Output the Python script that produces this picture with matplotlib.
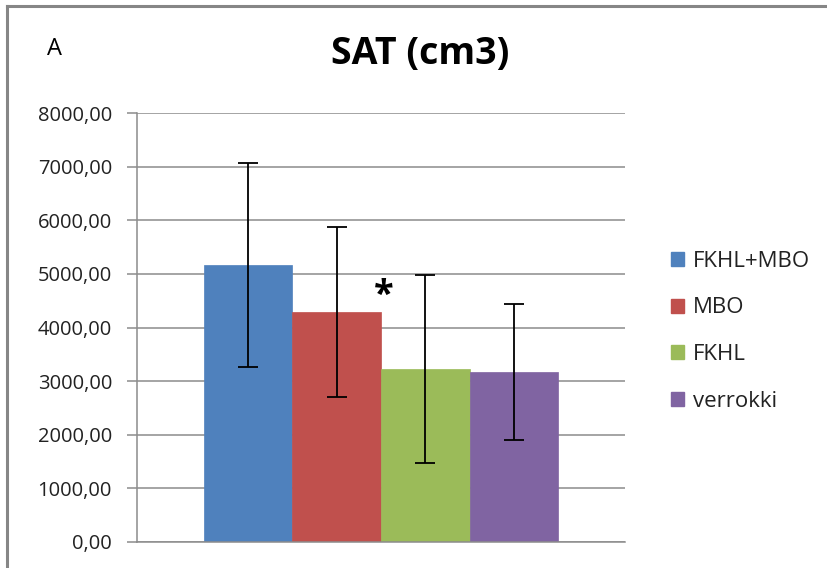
import matplotlib
matplotlib.use("Agg")
import matplotlib.pyplot as plt
from matplotlib.patches import Rectangle
from matplotlib.lines import Line2D
from matplotlib.ticker import FuncFormatter

plt.rcParams['font.family'] = ['Open Sans', 'DejaVu Sans']

categories = ["FKHL+MBO", "MBO", "FKHL", "verrokki"]
means = [5170, 4280, 3230, 3175]
errors = [1905, 1585, 1755, 1265]
colors = ["#4F81BD", "#C0504D", "#9BBB59", "#8064A2"]
yticks = [0, 1000, 2000, 3000, 4000, 5000, 6000, 7000, 8000]
title = "SAT (cm3)"
panel_label = "A"
star_label = "*"

W, H = 827, 568
fig = plt.figure(figsize=(W / 100, H / 100), dpi=100)

# chart-area border (top and left visible)
fig.add_artist(Line2D([7 / W, 7 / W], [0, 1 - 6 / H], transform=fig.transFigure,
                      color="#868686", lw=2.2))
fig.add_artist(Line2D([7 / W, 1], [1 - 6 / H, 1 - 6 / H], transform=fig.transFigure,
                      color="#868686", lw=2.2))

ax = fig.add_axes([137 / W, 1 - 542 / H, (625 - 137) / W, (542 - 113) / H])

for i, (m, e, c, lab) in enumerate(zip(means, errors, colors, categories)):
    ax.bar(i, m, width=1.0, color=c, label=lab, zorder=2, edgecolor=c, linewidth=0.5)
    ax.errorbar(i, m, yerr=e, fmt="none", ecolor="black", elinewidth=1.3,
                capsize=7, capthick=1.3, zorder=3)

ax.set_xlim(-1.257, 4.257)
ax.set_ylim(0, 8000)
ax.set_yticks(yticks)
ax.yaxis.set_major_formatter(FuncFormatter(lambda v, p: f"{v:.2f}".replace(".", ",")))
ax.set_xticks([])
ax.grid(axis="y", color="#8c8c8c", lw=1.1, zorder=0)
for s in ["top", "right"]:
    ax.spines[s].set_visible(False)
ax.spines["left"].set_color("#8c8c8c")
ax.spines["bottom"].set_color("#8c8c8c")
ax.spines["left"].set_linewidth(1.1)
ax.spines["bottom"].set_linewidth(1.1)
ax.tick_params(axis="y", direction="out", length=7, width=1.1, color="#8c8c8c",
               labelsize=14.5, labelcolor="#222222", pad=11)

ax.text(1.53, 4280 + 300, star_label, ha="center", va="center", fontsize=26,
        fontweight="bold", color="black")

fig.text(420 / W, 1 - 54 / H, title, ha="center", va="center", fontsize=27,
         fontweight="bold", color="black")
fig.text(54 / W, 1 - 49 / H, panel_label, ha="center", va="center", fontsize=17,
         color="black")

handles = [Rectangle((0, 0), 1, 1, facecolor=c, edgecolor=c) for c in colors]
leg = fig.legend(handles, categories, loc="upper left",
                 bbox_to_anchor=(662 / W, 1 - 242 / H), frameon=False,
                 fontsize=16, handlelength=0.6, handleheight=0.6,
                 handletextpad=0.4, labelspacing=1.15, borderaxespad=0)
for t in leg.get_texts():
    t.set_color("#222222")

fig.savefig("out.png", dpi=100)
